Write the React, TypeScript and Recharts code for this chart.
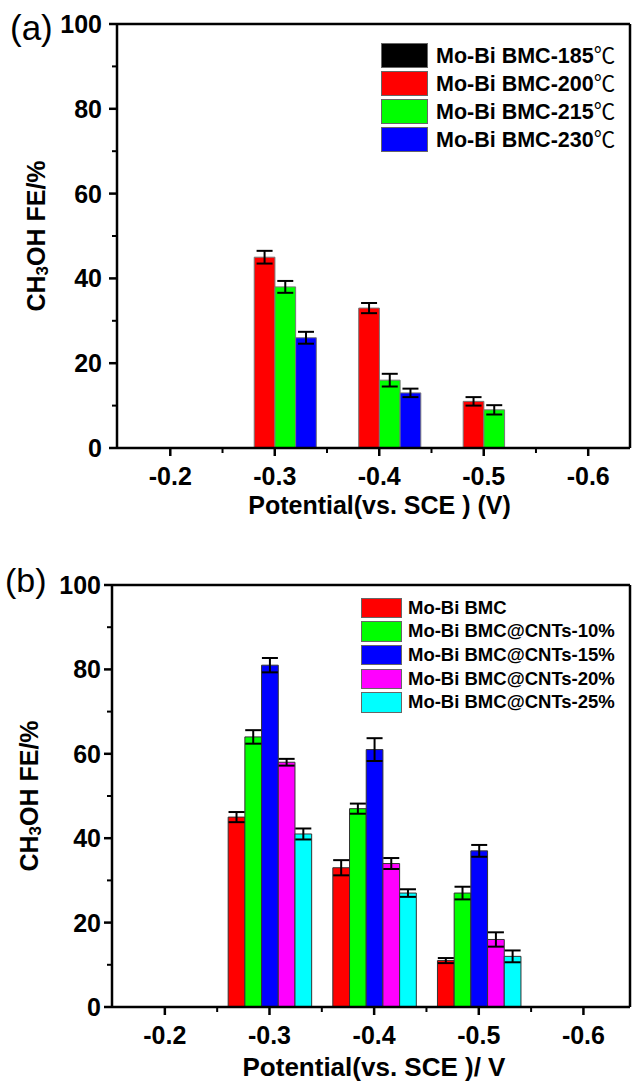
import { BarChart, Bar, XAxis, YAxis, ErrorBar, ReferenceLine, Legend, Label } from "recharts";

const FONT = "'Liberation Sans', Arial, sans-serif";

// shared axes
const potentials = [-0.3, -0.4, -0.5];
const xTicks = [-0.2, -0.25, -0.3, -0.35, -0.4, -0.45, -0.5, -0.55, -0.6];
const xMajor = [-0.2, -0.3, -0.4, -0.5, -0.6];
const yTicks = [0, 10, 20, 30, 40, 50, 60, 70, 80, 90, 100];
const yMajor = [0, 20, 40, 60, 80, 100];

// (a) synthesis temperature
const tempNames = ["Mo-Bi BMC-185℃", "Mo-Bi BMC-200℃", "Mo-Bi BMC-215℃", "Mo-Bi BMC-230℃"];
const tempColors = ["#000000", "#ff0000", "#00ff00", "#0000ff"];
const fe185 = [null, null, null];
const err185 = [null, null, null];
const fe200 = [45, 33, 11];
const err200 = [1.5, 1.2, 1.0];
const fe215 = [38, 16, 9];
const err215 = [1.4, 1.5, 1.1];
const fe230 = [26, 13, null];
const err230 = [1.4, 1.0, null];

// (b) CNT loading
const cntNames = ["Mo-Bi BMC", "Mo-Bi BMC@CNTs-10%", "Mo-Bi BMC@CNTs-15%", "Mo-Bi BMC@CNTs-20%", "Mo-Bi BMC@CNTs-25%"];
const cntColors = ["#ff0000", "#00ff00", "#0000ff", "#ff00ff", "#00ffff"];
const feBmc = [45, 33, 11];
const errBmc = [1.2, 1.8, 0.6];
const fe10 = [64, 47, 27];
const err10 = [1.6, 1.2, 1.5];
const fe15 = [81, 61, 37];
const err15 = [1.7, 2.7, 1.4];
const fe20 = [58, 34, 16];
const err20 = [0.8, 1.3, 1.7];
const fe25 = [41, 27, 12];
const err25 = [1.3, 0.9, 1.4];

function buildRows(values: (number | null)[][], errors: (number | null)[][]) {
  return potentials.map((x, i) => {
    const row: any = { x };
    values.forEach((v, k) => {
      row[`s${k}`] = v[i];
      row[`e${k}`] = errors[k][i];
    });
    return row;
  });
}

const dataA = buildRows([fe185, fe200, fe215, fe230], [err185, err200, err215, err230]);
const dataB = buildRows([feBmc, fe10, fe15, fe20, fe25], [errBmc, err10, err15, err20, err25]);

const isIn = (list: number[], v: number) => list.some((m) => Math.abs(m - v) < 1e-6);

const XTick = ({ x, y, payload }: any) => {
  const major = isIn(xMajor, payload.value);
  return (
    <g>
      <line x1={x} x2={x} y1={y} y2={y + (major ? 8 : 5)} stroke="#000" strokeWidth={major ? 2.5 : 2} />
      {major && (
        <text x={x} y={y + 37} textAnchor="middle" fontFamily={FONT} fontWeight="bold" fontSize={25} fill="#000">
          {payload.value.toFixed(1)}
        </text>
      )}
    </g>
  );
};

const makeYTick = (gap: number) => ({ x, y, payload }: any) => {
  const major = isIn(yMajor, payload.value);
  return (
    <g>
      <line x1={x} x2={x - (major ? 8 : 5)} y1={y} y2={y} stroke="#000" strokeWidth={major ? 2.5 : 2} />
      {major && (
        <text x={x - gap} y={y + 9} textAnchor="end" fontFamily={FONT} fontWeight="bold" fontSize={25} fill="#000">
          {payload.value}
        </text>
      )}
    </g>
  );
};

const makeYTitle = (cx: number) => ({ viewBox }: any) => {
  const cy = viewBox.y + viewBox.height / 2;
  return (
    <text
      x={cx}
      y={cy}
      transform={`rotate(-90 ${cx} ${cy})`}
      textAnchor="middle"
      dominantBaseline="central"
      fontFamily={FONT}
      fontWeight="bold"
      fontSize={25}
      fill="#000"
    >
      CH<tspan dy={6} fontSize={17}>3</tspan>
      <tspan dy={-6}>OH FE/%</tspan>
    </text>
  );
};

const makeLegend = (names: string[], colors: string[], o: any) => () => (
  <div style={{ fontFamily: FONT, fontWeight: "bold", fontSize: o.fontSize, color: "#000" }}>
    {names.map((name, k) => {
      const deg = name.endsWith("℃");
      return (
        <div key={name} style={{ display: "flex", alignItems: "center", height: o.rowH, whiteSpace: "nowrap" }}>
          <span
            style={{
              width: o.boxW,
              height: o.boxH,
              background: colors[k],
              border: "1px solid #666",
              boxSizing: "border-box",
              flex: "none",
            }}
          />
          <span style={{ marginLeft: o.gap, lineHeight: 1 }}>
            {deg ? name.slice(0, -1) : name}
            {deg && <span style={{ fontFamily: "'Noto Sans CJK SC'", fontWeight: "normal" }}>℃</span>}
          </span>
        </div>
      );
    })}
  </div>
);

function FePanel(p: any) {
  return (
    <BarChart width={632} height={541} data={p.data} margin={p.margin} barGap={0}>
      <XAxis
        dataKey="x"
        type="number"
        domain={p.xDomain}
        reversed
        allowDataOverflow
        ticks={xTicks}
        interval={0}
        tickSize={0}
        tickMargin={0}
        tickLine={false}
        tick={<XTick />}
        height={p.xHeight}
        axisLine={{ stroke: "#000", strokeWidth: 2.5 }}
      >
        <Label
          value={p.xTitle}
          position="insideBottom"
          offset={p.xTitleOffset}
          dx={p.xTitleDx}
          fontFamily={FONT}
          fontWeight="bold"
          fontSize={p.xTitleSize}
          fill="#000"
        />
      </XAxis>
      <YAxis
        type="number"
        domain={[0, 100]}
        ticks={yTicks}
        interval={0}
        width={60}
        tickSize={0}
        tickMargin={0}
        tickLine={false}
        tick={makeYTick(p.yGap)}
        axisLine={{ stroke: "#000", strokeWidth: 2.5 }}
        label={{ content: makeYTitle(p.yTitleX) }}
      />
      <ReferenceLine y={100} stroke="#000" strokeWidth={2.5} />
      <ReferenceLine x={p.xDomain[0]} stroke="#000" strokeWidth={2.5} />
      <Legend
        layout="vertical"
        align="center"
        verticalAlign="middle"
        wrapperStyle={{ position: "absolute", left: p.legend.left, top: p.legend.top, width: "auto" }}
        content={makeLegend(p.names, p.colors, p.legend)}
      />
      {p.names.map((name: string, k: number) => (
        <Bar
          key={name}
          dataKey={`s${k}`}
          name={name}
          fill={p.colors[k]}
          stroke={p.barStroke}
          strokeWidth={1}
          barSize={p.barSize}
          isAnimationActive={false}
        >
          <ErrorBar dataKey={`e${k}`} width={8} strokeWidth={2} stroke="#000" direction="y" />
        </Bar>
      ))}
    </BarChart>
  );
}

export default function App() {
  return (
    <div style={{ position: "absolute", left: 0, top: 0, width: 632, height: 1082, background: "#fff" }}>
      <FePanel
        data={dataA}
        names={tempNames}
        colors={tempColors}
        margin={{ top: 24, right: 2, left: 57, bottom: 0 }}
        xDomain={[-0.64, -0.149]}
        xHeight={93}
        xTitle="Potential(vs. SCE ) (V)"
        xTitleOffset={27}
        xTitleDx={6}
        xTitleSize={25}
        yGap={15}
        yTitleX={36}
        barSize={20.7}
        barStroke="#777"
        legend={{ left: 381, top: 41, fontSize: 21.5, rowH: 28, boxW: 47, boxH: 25, gap: 8 }}
      />
      <FePanel
        data={dataB}
        names={cntNames}
        colors={cntColors}
        margin={{ top: 44, right: 2, left: 52, bottom: 0 }}
        xDomain={[-0.6445, -0.1495]}
        xHeight={75}
        xTitle="Potential(vs. SCE )/ V"
        xTitleOffset={6}
        xTitleDx={3}
        xTitleSize={26}
        yGap={11}
        yTitleX={29}
        barSize={16.7}
        barStroke="#333"
        legend={{ left: 361, top: 55, fontSize: 18.5, rowH: 23.7, boxW: 41, boxH: 20.5, gap: 6 }}
      />
      <div style={{ position: "absolute", left: 10, top: 10, fontFamily: FONT, fontSize: 35, lineHeight: 1 }}>(a)</div>
      <div style={{ position: "absolute", left: 5, top: 563, fontFamily: FONT, fontSize: 34, lineHeight: 1 }}>(b)</div>
    </div>
  );
}
